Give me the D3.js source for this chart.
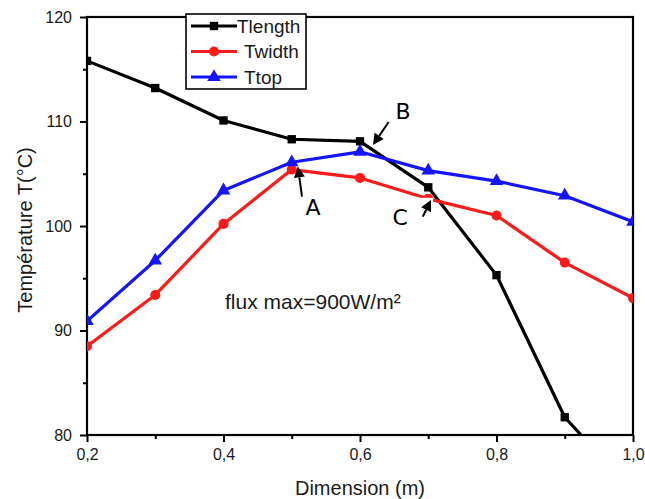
<!DOCTYPE html>
<html>
<head>
<meta charset="utf-8">
<script src="https://cdn.jsdelivr.net/npm/d3@7"></script>
<style>
  body { margin: 0; background: #fff; }
  text { font-family: "Liberation Sans", Arial, sans-serif; fill: #1a1a1a; }
</style>
</head>
<body>
<script>
var width = 645;
var height = 499;

// data
var dimensions = [0.2, 0.3, 0.4, 0.5, 0.6, 0.7, 0.8, 0.9, 1.0];
var tLength = [115.8, 113.2, 110.1, 108.3, 108.1, 103.7, 95.3, 81.7, 74.6];
var tWidth  = [88.5, 93.4, 100.2, 105.4, 104.6, 102.6, 101.0, 96.5, 93.1];
var tTop    = [90.9, 96.7, 103.4, 106.1, 107.1, 105.3, 104.3, 102.9, 100.4];
var xTicks = [0.2, 0.4, 0.6, 0.8, 1.0];
var yTicks = [80, 90, 100, 110, 120];

var series = [
    {name: "Tlength", values: tLength, color: "#000000", symbol: d3.symbolSquare, size: 70},
    {name: "Twidth", values: tWidth, color: "#ff1a1a", symbol: d3.symbolCircle, size: 80},
    {name: "Ttop", values: tTop, color: "#1414ff", symbol: d3.symbolTriangle, size: 80}
];

var margin = {top: 17, right: 12, bottom: 64, left: 87},
    plotWidth = width - margin.left - margin.right,
    plotHeight = height - margin.top - margin.bottom;

var svg = d3.select("body")
        .append("svg")
        .attr("width", width)
        .attr("height", height);

var x = d3.scaleLinear().domain([0.2, 1.0]).range([0, plotWidth]),
    y = d3.scaleLinear().domain([80, 120]).range([plotHeight, 0]);

var commaFmt = function(d){ return d3.format(".1f")(d).replace(".", ","); };

var g = svg.append("g")
        .attr("transform", "translate(" + margin.left + "," + margin.top + ")");

svg.append("defs").append("clipPath")
        .attr("id", "plot-clip")
        .append("rect")
        .attr("width", plotWidth)
        .attr("height", plotHeight);

// minor ticks
g.append("g")
        .attr("transform", "translate(0," + plotHeight + ")")
        .call(d3.axisBottom(x).tickValues([0.3, 0.5, 0.7, 0.9]).tickSize(4).tickFormat(""))
        .call(function(s){ s.select(".domain").remove(); s.selectAll("line").attr("stroke-width", 2); });
g.append("g")
        .call(d3.axisLeft(y).tickValues([85, 95, 105, 115]).tickSize(4).tickFormat(""))
        .call(function(s){ s.select(".domain").remove(); s.selectAll("line").attr("stroke-width", 2); });

// major axes
var xAxis = g.append("g")
        .attr("transform", "translate(0," + plotHeight + ")")
        .call(d3.axisBottom(x).tickValues(xTicks).tickSize(7).tickPadding(7).tickFormat(commaFmt));
var yAxis = g.append("g")
        .call(d3.axisLeft(y).tickValues(yTicks).tickSize(7).tickPadding(8).tickFormat(d3.format("d")));

[xAxis, yAxis].forEach(function(a){
    a.select(".domain").remove();
    a.selectAll("line").attr("stroke", "#000").attr("stroke-width", 2);
    a.selectAll("text").attr("font-size", 16).attr("fill", "#333")
            .style("font-family", "'Liberation Sans', Arial, sans-serif");
});

// frame
g.append("rect")
        .attr("width", plotWidth)
        .attr("height", plotHeight)
        .attr("fill", "none")
        .attr("stroke", "#000")
        .attr("stroke-width", 2.2);

// series
var line = d3.line()
        .x(function(d, i){ return x(dimensions[i]); })
        .y(function(d){ return y(d); });

var plot = g.append("g").attr("clip-path", "url(#plot-clip)");

series.forEach(function(s){
    plot.append("path")
            .attr("d", line(s.values))
            .attr("fill", "none")
            .attr("stroke", s.color)
            .attr("stroke-width", 3.2)
            .attr("stroke-linejoin", "round");
    plot.selectAll(null)
            .data(s.values)
            .enter().append("path")
            .attr("d", d3.symbol().type(s.symbol).size(s.size))
            .attr("transform", function(d, i){ return "translate(" + x(dimensions[i]) + "," + y(d) + ")"; })
            .attr("fill", s.color);
});

// annotations (arrows + letters)
var annotations = [
    {label: "A", tip: [0.509, 105.7], tail: [0.515, 102.8], text: [0.531, 101.8]},
    {label: "B", tip: [0.619, 107.75], tail: [0.642, 109.95], text: [0.663, 111.0]},
    {label: "C", tip: [0.704, 102.5], tail: [0.692, 100.9], text: [0.659, 100.8]}
];

// white patch behind C, as in the original
g.append("rect")
        .attr("x", x(0.63))
        .attr("y", y(102.7))
        .attr("width", x(0.707) - x(0.63))
        .attr("height", y(98.8) - y(102.7))
        .attr("fill", "#fff");

annotations.forEach(function(a){
    var x1 = x(a.tail[0]), y1 = y(a.tail[1]), x2 = x(a.tip[0]), y2 = y(a.tip[1]);
    var ang = Math.atan2(y2 - y1, x2 - x1);
    var hl = 11, hw = 5.5;
    var bx = x2 - hl * Math.cos(ang), by = y2 - hl * Math.sin(ang);
    g.append("line")
            .attr("x1", x1).attr("y1", y1)
            .attr("x2", bx).attr("y2", by)
            .attr("stroke", "#000")
            .attr("stroke-width", 2);
    g.append("polygon")
            .attr("points", [
                [x2, y2],
                [bx + hw * Math.sin(ang), by - hw * Math.cos(ang)],
                [bx - hw * Math.sin(ang), by + hw * Math.cos(ang)]
            ].map(function(p){ return p.join(","); }).join(" "))
            .attr("fill", "#000");
    g.append("text")
            .attr("x", x(a.text[0]))
            .attr("y", y(a.text[1]))
            .attr("text-anchor", "middle")
            .attr("dominant-baseline", "central")
            .attr("font-size", 22)
            .style("font-family", "'DejaVu Sans', sans-serif")
            .style("fill", "#000")
            .text(a.label);
});

// flux note
g.append("text")
        .attr("x", x(0.2) + 138)
        .attr("y", y(92.1))
        .attr("font-size", 21)
        .attr("fill", "#222")
        .text("flux max=900W/m²");

// legend
var legend = svg.append("g").attr("transform", "translate(186,14)");
legend.append("rect")
        .attr("width", 120)
        .attr("height", 75)
        .attr("fill", "#fff")
        .attr("stroke", "#000")
        .attr("stroke-width", 1.6);
series.forEach(function(s, i){
    var row = legend.append("g").attr("transform", "translate(0," + (12 + i * 25.5) + ")");
    row.append("line")
            .attr("x1", 5).attr("x2", 51)
            .attr("stroke", s.color)
            .attr("stroke-width", 3.2);
    row.append("path")
            .attr("d", d3.symbol().type(s.symbol).size(s.size))
            .attr("transform", "translate(28,0)")
            .attr("fill", s.color);
    row.append("text")
            .attr("x", i === 0 ? 51 : 58)
            .attr("dy", "0.36em")
            .attr("font-size", 19)
            .attr("fill", "#000")
            .text(s.name);
});

// axis titles
svg.append("text")
        .attr("x", margin.left + x(0.6))
        .attr("y", 488)
        .attr("text-anchor", "middle")
        .attr("dominant-baseline", "central")
        .attr("font-size", 20)
        .attr("fill", "#222")
        .text("Dimension (m)");

svg.append("text")
        .attr("transform", "translate(25,230) rotate(-90)")
        .attr("text-anchor", "middle")
        .attr("dominant-baseline", "central")
        .attr("font-size", 20)
        .attr("fill", "#222")
        .text("Température T(°C)");
</script>
</body>
</html>
